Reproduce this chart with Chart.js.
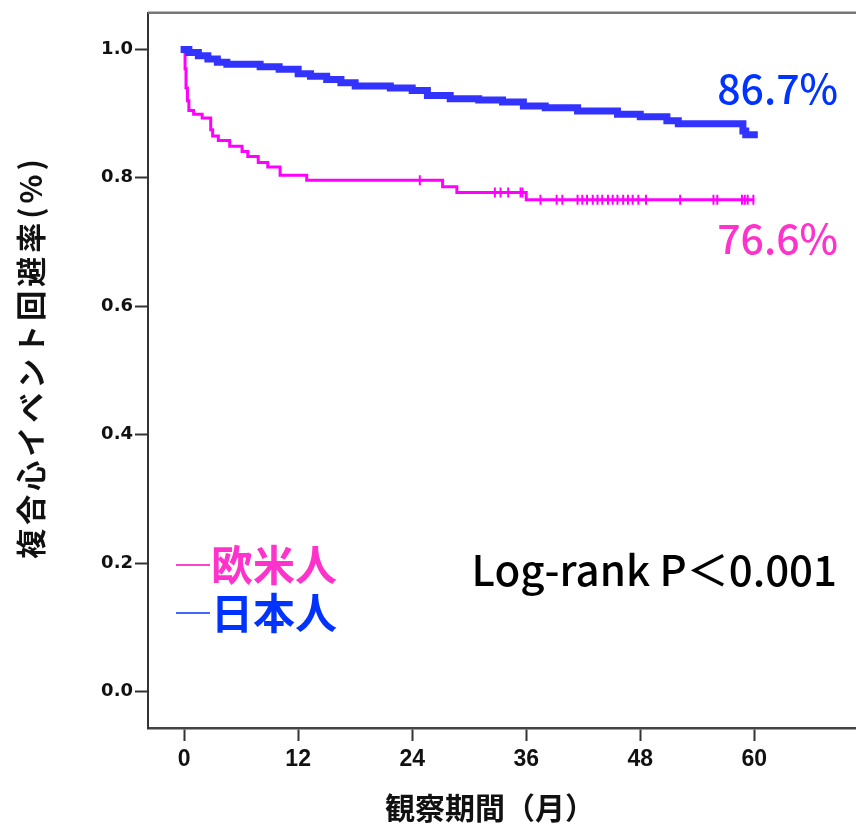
<!DOCTYPE html>
<html>
<head>
<meta charset="utf-8">
<script src="https://cdn.jsdelivr.net/npm/chart.js@4.4.1/dist/chart.umd.min.js"></script>
<style>
body { margin: 0; background: #fff; }
</style>
</head>
<body>
<canvas id="km" width="856" height="834"></canvas>
<script>
// 日本人 (Japanese) KM curve, months / survival
const jpTimes = [0, 0.5, 1.5, 2.5, 3.5, 4.5, 8, 10, 12, 13.3, 15, 16.5, 18, 21.7, 24, 25.6, 28, 31, 33.5, 35.7, 38, 41.4, 45.6, 48, 50.8, 52, 58.8, 59.1, 60];
const jpSurv  = [1.0, 0.995, 0.99, 0.985, 0.98, 0.977, 0.973, 0.969, 0.962, 0.958, 0.953, 0.948, 0.943, 0.94, 0.936, 0.928, 0.923, 0.921, 0.918, 0.912, 0.909, 0.904, 0.899, 0.895, 0.889, 0.884, 0.873, 0.867, 0.867];

// 欧米人 (Western) KM curve
const euTimes = [0, 0.1, 0.2, 0.35, 0.5, 1.0, 1.9, 2.8, 3.0, 3.6, 4.8, 6.1, 6.7, 7.8, 8.8, 10.1, 12.9, 27.2, 28.7, 36.0, 60];
const euSurv  = [1.0, 0.97, 0.94, 0.92, 0.905, 0.899, 0.893, 0.875, 0.865, 0.858, 0.849, 0.841, 0.833, 0.824, 0.817, 0.804, 0.796, 0.786, 0.777, 0.766, 0.766];
const euCensor = [24.8, 32.7, 33.3, 34.1, 35.4, 35.6, 37.5, 39.2, 39.8, 41.4, 41.9, 42.4, 43.0, 43.5, 44.0, 44.6, 45.1, 45.6, 46.2, 46.7, 47.2, 47.8, 48.6, 52.2, 55.7, 56.1, 58.7, 59.0, 59.3, 59.9];

const xTicks = [0, 12, 24, 36, 48, 60];
const yTicks = [0.0, 0.2, 0.4, 0.6, 0.8, 1.0];

const BLUE = '#3333ff';
const MAGENTA = '#ff00ff';

function toPoints(times, surv) {
  return times.map((t, i) => ({ x: t, y: surv[i] }));
}
function survAt(times, surv, t) {
  let s = surv[0];
  for (let i = 0; i < times.length; i++) {
    if (times[i] <= t) s = surv[i];
  }
  return s;
}

const frame = {
  id: 'frame',
  afterDraw(chart) {
    const { ctx, chartArea } = chart;
    ctx.save();
    ctx.strokeStyle = '#777';
    ctx.lineWidth = 2.5;
    ctx.beginPath();
    ctx.moveTo(chartArea.left, chartArea.top);
    ctx.lineTo(chartArea.right, chartArea.top);
    ctx.stroke();
    ctx.restore();
  }
};

const labels = {
  id: 'labels',
  afterDraw(chart) {
    const ctx = chart.ctx;
    ctx.save();
    ctx.textBaseline = 'middle';

    // axis titles
    ctx.fillStyle = '#111';
    ctx.font = 'bold 30px "Noto Sans CJK JP"';
    ctx.textAlign = 'center';
    ctx.fillText('観察期間（月）', 490, 808);

    ctx.save();
    ctx.translate(31, 357);
    ctx.rotate(-Math.PI / 2);
    ctx.letterSpacing = '4px';
    ctx.fillText('複合心イベント回避率(%)', 0, 0);
    ctx.restore();

    // legend
    ctx.textAlign = 'left';
    ctx.font = 'bold 42px "Noto Sans CJK JP"';
    ctx.strokeStyle = '#ff44cc';
    ctx.lineWidth = 2;
    ctx.beginPath(); ctx.moveTo(176, 565); ctx.lineTo(210, 565); ctx.stroke();
    ctx.fillStyle = '#ff33cc';
    ctx.fillText('欧米人', 211, 565);
    ctx.strokeStyle = '#4466ff';
    ctx.beginPath(); ctx.moveTo(176, 613); ctx.lineTo(210, 613); ctx.stroke();
    ctx.fillStyle = '#0033ff';
    ctx.fillText('日本人', 211, 613);

    // p value
    ctx.fillStyle = '#000';
    ctx.font = '500 42px "Noto Sans CJK JP"';
    ctx.textAlign = 'right';
    ctx.fillText('Log-rank P＜0.001', 837, 570);

    // end percentages
    ctx.font = '500 41px "Noto Sans CJK JP"';
    ctx.fillStyle = '#0033ff';
    ctx.fillText('86.7%', 838, 88);
    ctx.fillStyle = '#ff33cc';
    ctx.fillText('76.6%', 838, 238);
    ctx.restore();
  }
};

new Chart(document.getElementById('km'), {
  type: 'line',
  data: {
    datasets: [
      {
        label: '日本人',
        data: toPoints(jpTimes, jpSurv),
        borderColor: BLUE,
        borderWidth: 7,
        stepped: true,
        pointRadius: 0,
        borderCapStyle: 'square'
      },
      {
        label: '欧米人',
        data: toPoints(euTimes, euSurv),
        borderColor: MAGENTA,
        borderWidth: 3,
        stepped: true,
        pointRadius: 0
      },
      {
        label: 'censor',
        data: euCensor.map(t => ({ x: t, y: survAt(euTimes, euSurv, t) })),
        showLine: false,
        pointStyle: 'line',
        rotation: 90,
        pointRadius: 5,
        borderColor: MAGENTA,
        pointBorderWidth: 2
      }
    ]
  },
  options: {
    responsive: false,
    animation: false,
    layout: { autoPadding: false, padding: { top: 8, right: 0, left: 0, bottom: 0 } },
    plugins: {
      legend: { display: false },
      tooltip: { enabled: false }
    },
    scales: {
      x: {
        type: 'linear',
        min: -3.8,
        max: 70.7,
        afterBuildTicks: s => { s.ticks = xTicks.map(v => ({ value: v })); },
        afterFit: s => { s.height = 106; },
        grid: { drawOnChartArea: false, tickLength: 13, color: '#333', tickWidth: 2 },
        border: { color: '#444', width: 2.5 },
        ticks: {
          color: '#111',
          padding: 5,
          font: { family: '"Liberation Sans Narrow", "Liberation Sans"', weight: 'bold', size: 23 }
        }
      },
      y: {
        min: -0.057,
        max: 1.057,
        afterBuildTicks: s => { s.ticks = yTicks.map(v => ({ value: v })); },
        afterFit: s => { s.width = 148; },
        grid: { drawOnChartArea: false, tickLength: 13, color: '#333', tickWidth: 2 },
        border: { color: '#333', width: 2 },
        ticks: {
          color: '#111',
          padding: 2,
          font: { family: 'DejaVu Sans', weight: 'bold', size: 18 },
          callback: v => v.toFixed(1)
        }
      }
    }
  },
  plugins: [frame, labels]
});
</script>
</body>
</html>
